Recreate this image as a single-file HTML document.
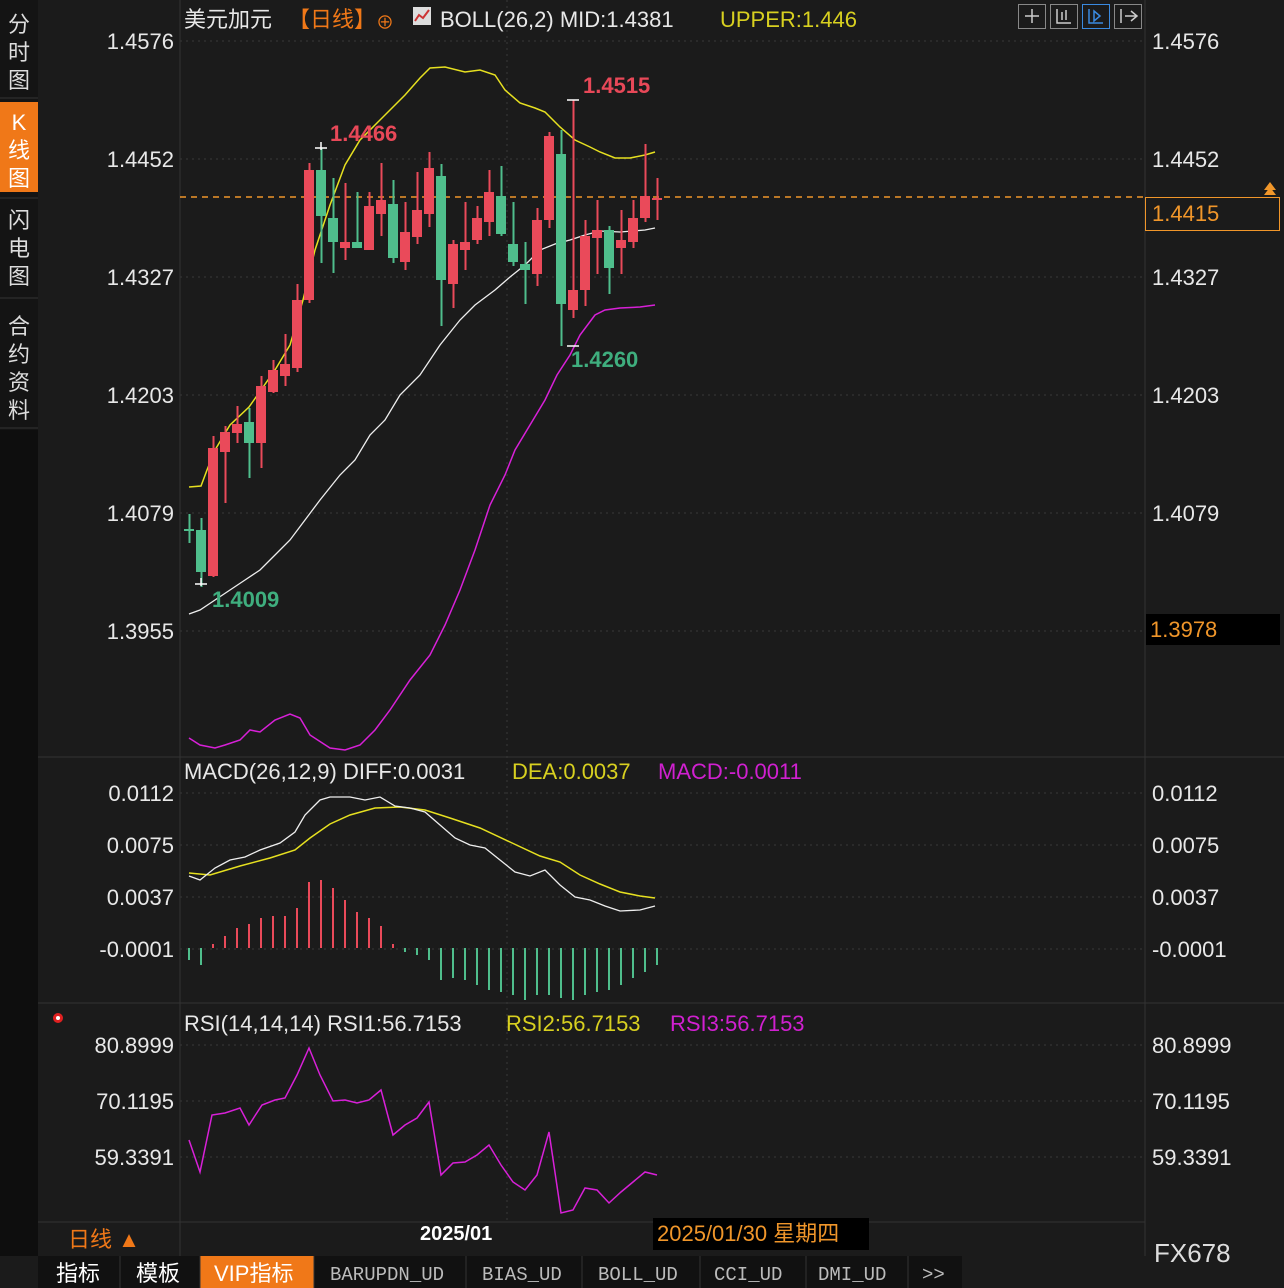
<!DOCTYPE html>
<html><head><meta charset="utf-8"><style>
body{margin:0;width:1284px;height:1288px;background:#1b1b1b;overflow:hidden;font-family:"Liberation Sans","Noto Sans CJK SC",sans-serif;}
</style></head><body>
<svg width="1284" height="1288" xmlns="http://www.w3.org/2000/svg" style="position:absolute;left:0;top:0">
<rect width="1284" height="1288" fill="#1b1b1b"/>
<!-- sidebar -->
<rect x="0" y="0" width="38" height="1256" fill="#141414"/>
<rect x="0" y="102" width="38" height="90" fill="#f07818"/>
<g font-size="22" fill="#ddd" text-anchor="middle">
<text x="19" y="32">分</text><text x="19" y="60">时</text><text x="19" y="88">图</text>
<text x="19" y="130" fill="#fff">K</text><text x="19" y="158" fill="#fff">线</text><text x="19" y="186" fill="#fff">图</text>
<text x="19" y="228">闪</text><text x="19" y="256">电</text><text x="19" y="284">图</text>
<text x="19" y="334">合</text><text x="19" y="362">约</text><text x="19" y="390">资</text><text x="19" y="418">料</text>
</g>
<line x1="0" y1="98" x2="38" y2="98" stroke="#333"/><line x1="0" y1="198" x2="38" y2="198" stroke="#333"/><line x1="0" y1="298" x2="38" y2="298" stroke="#333"/><line x1="0" y1="428" x2="38" y2="428" stroke="#333"/>
<rect x="0" y="430" width="38" height="826" fill="#0e0e0e"/>
<!-- grid -->
<g stroke="#3a3a3a" stroke-dasharray="2,4">
<line x1="180" y1="41" x2="1145" y2="41"/><line x1="180" y1="159" x2="1145" y2="159"/><line x1="180" y1="277" x2="1145" y2="277"/><line x1="180" y1="395" x2="1145" y2="395"/><line x1="180" y1="513" x2="1145" y2="513"/><line x1="180" y1="631" x2="1145" y2="631"/>
<line x1="180" y1="793" x2="1145" y2="793"/><line x1="180" y1="845" x2="1145" y2="845"/><line x1="180" y1="897" x2="1145" y2="897"/><line x1="180" y1="949" x2="1145" y2="949"/>
<line x1="180" y1="1045" x2="1145" y2="1045"/><line x1="180" y1="1101" x2="1145" y2="1101"/><line x1="180" y1="1157" x2="1145" y2="1157"/>
<line x1="507" y1="0" x2="507" y2="1222"/>
</g>
<line x1="180" y1="0" x2="180" y2="1256" stroke="#333"/>
<line x1="1145" y1="0" x2="1145" y2="1256" stroke="#333"/>
<line x1="38" y1="757" x2="1284" y2="757" stroke="#333"/>
<line x1="38" y1="1003" x2="1284" y2="1003" stroke="#333"/>
<line x1="38" y1="1222" x2="1145" y2="1222" stroke="#333"/>
<!-- axis labels -->
<g font-size="22" fill="#e8e8e8">
<g text-anchor="end"><text x="174" y="49">1.4576</text><text x="174" y="167">1.4452</text><text x="174" y="285">1.4327</text><text x="174" y="403">1.4203</text><text x="174" y="521">1.4079</text><text x="174" y="639">1.3955</text>
<text x="174" y="801">0.0112</text><text x="174" y="853">0.0075</text><text x="174" y="905">0.0037</text><text x="174" y="957">-0.0001</text>
<text x="174" y="1053">80.8999</text><text x="174" y="1109">70.1195</text><text x="174" y="1165">59.3391</text></g>
<text x="1152" y="49">1.4576</text><text x="1152" y="167">1.4452</text><text x="1152" y="285">1.4327</text><text x="1152" y="403">1.4203</text><text x="1152" y="521">1.4079</text>
<text x="1152" y="801">0.0112</text><text x="1152" y="853">0.0075</text><text x="1152" y="905">0.0037</text><text x="1152" y="957">-0.0001</text>
<text x="1152" y="1053">80.8999</text><text x="1152" y="1109">70.1195</text><text x="1152" y="1165">59.3391</text>
</g>
<!-- current price -->
<line x1="180" y1="197" x2="1145" y2="197" stroke="#f0962a" stroke-width="1.5" stroke-dasharray="6,5"/>
<rect x="1145.5" y="197.5" width="134" height="33" fill="#1b1b1b" stroke="#f0962a"/>
<text x="1152" y="221" font-size="22" fill="#f0962a">1.4415</text>
<path d="M1264 190 l6 -8 l6 8 z M1264 195 l6 -8 l6 8 z" fill="#f0962a"/>
<rect x="1146" y="614" width="134" height="31" fill="#000"/>
<text x="1150" y="637" font-size="22" fill="#f0962a">1.3978</text>
<!-- title -->
<g font-size="22">
<text x="184" y="27" fill="#e8e8e8">美元加元</text><text x="288" y="27" fill="#f07818">【日线】</text>
<text x="376" y="29" fill="#f07818" font-size="18">⊕</text>
<rect x="413" y="7" width="18" height="18" fill="#ddd"/><path d="M415 21 l4 -6 l4 3 l6 -8" stroke="#c33" stroke-width="2" fill="none"/>
<text x="440" y="27" fill="#e8e8e8">BOLL(26,2)  MID:1.4381</text>
<text x="720" y="27" fill="#d8d020">UPPER:1.446</text>
<text x="184" y="779" fill="#e8e8e8">MACD(26,12,9)  DIFF:0.0031</text><text x="512" y="779" fill="#d8d020">DEA:0.0037</text><text x="658" y="779" fill="#d020d0">MACD:-0.0011</text>
<text x="184" y="1031" fill="#e8e8e8">RSI(14,14,14)  RSI1:56.7153</text><text x="506" y="1031" fill="#d8d020">RSI2:56.7153</text><text x="670" y="1031" fill="#d020d0">RSI3:56.7153</text>
</g>
<circle cx="58" cy="1018" r="5" fill="#e02020"/><circle cx="58" cy="1018" r="2" fill="#fff"/>
<g stroke="#888" fill="none"><rect x="1018.5" y="4.5" width="27" height="24"/><rect x="1050.5" y="4.5" width="27" height="24"/><rect x="1082.5" y="4.5" width="27" height="24" stroke="#3a8ae0"/><rect x="1114.5" y="4.5" width="27" height="24"/></g>
<g stroke="#ccc" fill="none" stroke-width="1.5"><path d="M1025 16h14M1032 9v14"/><path d="M1057 9v14h14M1062 12v8M1066 10v10"/><path d="M1089 9v14h14M1094 11l6 5l-6 5z" stroke="#3a8ae0"/><path d="M1121 9v14M1125 16h12M1131 11l6 5l-6 5"/></g>
<!-- boll lines -->
<polyline fill="none" stroke="#e6e020" stroke-width="1.5" points="189,487 201,486 207,470 215,450 230,425 249,407 261,390 275,370 290,345 303,300 315,250 330,205 345,165 360,140 375,125 390,110 405,95 420,78 430,68 445,67 465,72 480,70 495,75 505,90 520,103 535,108 545,112 560,127 575,140 590,147 600,152 615,158 630,158 645,155 655,152"/>
<polyline fill="none" stroke="#eee" stroke-width="1.3" points="189,614 200,610 215,600 230,590 245,580 260,570 275,555 290,540 305,520 320,500 340,475 355,460 370,435 385,420 400,395 420,375 440,345 460,320 475,305 495,290 510,277 525,265 540,250 555,244 570,240 585,235 600,231 620,232 645,230 655,228"/>
<polyline fill="none" stroke="#d820d8" stroke-width="1.5" points="189,738 200,745 215,748 225,745 240,740 250,730 260,732 275,720 290,714 300,718 310,735 330,748 345,750 360,745 375,730 390,710 410,680 430,655 445,625 460,590 475,550 490,505 505,475 515,450 530,425 545,400 557,375 570,355 580,335 595,315 605,310 620,308 640,307 655,305"/>
<!-- candles -->
<g id="c"></g>
<g font-size="22" font-weight="bold">
<text x="330" y="141" fill="#e84858">1.4466</text><text x="583" y="93" fill="#e84858">1.4515</text>
<text x="571" y="367" fill="#3fae7e">1.4260</text><text x="212" y="607" fill="#3fae7e">1.4009</text>
</g>
<g stroke="#fff" stroke-width="1.5"><path d="M315 148h12M321 142v8M567 100h12M567 346h12M195 584h12M201 578v8"/></g>
<!-- macd -->
<polyline fill="none" stroke="#e6e020" stroke-width="1.5" points="189,873 210,875 240,866 270,858 295,850 310,838 330,824 350,815 375,808 400,807 425,810 450,818 480,828 510,842 540,856 560,862 580,875 600,884 620,892 640,896 655,898"/>
<polyline fill="none" stroke="#eee" stroke-width="1.3" points="189,876 200,880 215,868 230,860 245,857 260,850 280,843 295,832 305,815 320,800 330,797 350,797 365,800 380,797 395,806 410,808 425,812 440,825 455,838 470,845 485,848 500,860 515,872 530,876 545,870 560,885 575,897 590,900 605,906 620,911 640,910 655,906"/>
<g id="h"></g>
<!-- rsi -->
<polyline fill="none" stroke="#d820d8" stroke-width="1.5" points="189,1140 200,1172 212,1115 225,1113 240,1108 249,1125 262,1105 275,1100 285,1098 297,1075 309,1048 320,1075 333,1101 345,1100 357,1103 369,1100 381,1090 393,1135 405,1125 417,1118 429,1102 441,1175 453,1163 465,1162 477,1155 489,1145 501,1165 513,1182 525,1190 537,1175 549,1132 561,1213 573,1210 585,1188 597,1190 609,1203 621,1192 633,1182 645,1172 657,1175"/>
<!-- bottom -->
<text x="68" y="1247" font-size="22" fill="#f07818">日线 ▲</text>
<text x="420" y="1240" font-size="20" fill="#fff" font-weight="bold">2025/01</text>
<rect x="653" y="1218" width="216" height="32" fill="#000"/>
<text x="657" y="1241" font-size="22" fill="#f0962a">2025/01/30 星期四</text>
<text x="1154" y="1262" font-size="26" fill="#ddd">FX678</text>
<rect x="38" y="1256" width="924" height="32" fill="#111"/>
<rect x="200" y="1256" width="114" height="32" fill="#f07818"/>
<g stroke="#333"><line x1="120" y1="1256" x2="120" y2="1288"/><line x1="200" y1="1256" x2="200" y2="1288"/><line x1="314" y1="1256" x2="314" y2="1288"/><line x1="466" y1="1256" x2="466" y2="1288"/><line x1="582" y1="1256" x2="582" y2="1288"/><line x1="700" y1="1256" x2="700" y2="1288"/><line x1="806" y1="1256" x2="806" y2="1288"/><line x1="908" y1="1256" x2="908" y2="1288"/></g>
<g font-size="22" fill="#fff"><text x="56" y="1281">指标</text><text x="136" y="1281">模板</text><text x="214" y="1281">VIP指标</text></g>
<g font-size="19" fill="#bbb" font-family="Liberation Mono,monospace"><text x="330" y="1280">BARUPDN_UD</text><text x="482" y="1280">BIAS_UD</text><text x="598" y="1280">BOLL_UD</text><text x="714" y="1280">CCI_UD</text><text x="818" y="1280">DMI_UD</text><text x="922" y="1280">&gt;&gt;</text></g>
</svg>
<script>
var R="#ea4a5a",G="#4fbe8c",ns="http://www.w3.org/2000/svg";
var c=[[514,543,529,531,0],[518,587,530,572,0],[436,577,448,576,1],[426,503,432,452,1],[406,443,424,433,1],[408,478,422,443,0],[376,468,386,443,1],[360,393,370,392,1],[334,386,364,376,1],[284,372,300,368,1],[163,303,170,300,1],[148,263,170,216,0],[178,273,218,242,0],[183,260,242,248,1],[192,248,242,248,0],[192,250,206,250,1],[163,236,200,214,1],[180,263,204,258,0],[202,270,232,262,1],[172,244,210,237,1],[152,227,168,214,1],[164,326,176,280,0],[240,308,244,284,1],[202,270,242,250,1],[206,244,218,240,1],[170,236,192,222,1],[166,236,196,234,0],[202,266,244,262,0],[242,304,264,270,0],[208,286,220,274,1],[132,228,136,220,1],[130,346,154,304,0],[100,318,290,310,1],[220,306,236,290,1],[200,274,230,238,1],[226,294,230,268,0],[210,274,240,248,1],[200,248,218,242,1],[144,222,196,218,1],[178,220,198,200,1]];
var g=document.getElementById("c");
c.forEach(function(d,i){var x=189+12*i,col=d[4]?R:G;
var l=document.createElementNS(ns,"rect");l.setAttribute("x",x-0.5);l.setAttribute("y",d[0]);l.setAttribute("width",2);l.setAttribute("height",d[1]-d[0]);l.setAttribute("fill",col);g.appendChild(l);
var b=document.createElementNS(ns,"rect");b.setAttribute("x",x-5);b.setAttribute("y",d[2]);b.setAttribute("width",10);b.setAttribute("height",Math.max(2,d[3]-d[2]));b.setAttribute("fill",col);g.appendChild(b);});
var h=[960,965,944,936,928,924,918,916,916,908,882,880,888,900,912,918,926,944,952,955,960,980,978,980,985,990,992,995,1000,995,995,998,1000,995,992,990,985,978,972,965];
var hg=document.getElementById("h");
h.forEach(function(v,i){var x=189+12*i,r=v<948;var l=document.createElementNS(ns,"rect");l.setAttribute("x",x-1);l.setAttribute("width",2);l.setAttribute("y",Math.min(v,948));l.setAttribute("height",Math.abs(v-948));l.setAttribute("fill",r?R:G);hg.appendChild(l);});
</script>
</body></html>
